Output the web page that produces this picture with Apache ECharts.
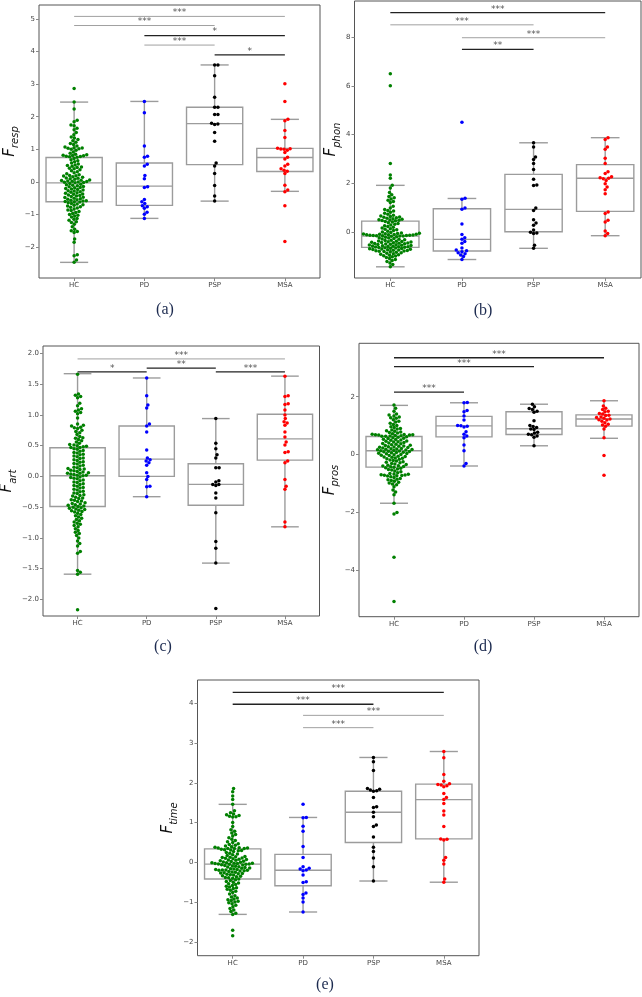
<!DOCTYPE html>
<html><head><meta charset="utf-8">
<script src="https://cdn.jsdelivr.net/npm/echarts@6/dist/echarts.min.js"></script>
<style>html,body{margin:0;padding:0;background:#fff}#c{width:642px;height:997px}</style>
</head><body><div id="c"></div>
<script>
const groups = ['HC', 'PD', 'PSP', 'MSA'];
const groupColors = ['#008000', '#0000ff', '#000000', '#ff0000'];

// ---------- panel (a) F_resp ----------
const aHC = [2.87, 2.45, 2.24, 1.89, 1.85, 1.75, 1.72, 1.65, 1.60, 1.52, 1.45, 1.38, 1.35, 1.30, 1.26, 1.22, 1.18, 1.15, 1.10, 1.07, 1.05, 1.04, 1.03, 1.02, 1.00, 0.97, 0.92, 0.88, 0.85, 0.83, 0.82, 0.81, 0.80, 0.79, 0.78, 0.77, 0.76, 0.72, 0.68, 0.65, 0.62, 0.58, 0.55, 0.52, 0.50, 0.48, 0.46, 0.44, 0.42, 0.40, 0.37, 0.34, 0.31, 0.28, 0.25, 0.22, 0.20, 0.19, 0.18, 0.16, 0.14, 0.12, 0.11, 0.10, 0.08, 0.06, 0.05, 0.04, 0.03, 0.02, 0.01, 0.00, -0.01, -0.02, -0.03, -0.05, -0.07, -0.09, -0.10, -0.12, -0.14, -0.15, -0.17, -0.18, -0.20, -0.22, -0.23, -0.25, -0.27, -0.28, -0.30, -0.32, -0.33, -0.35, -0.37, -0.38, -0.40, -0.42, -0.43, -0.45, -0.47, -0.48, -0.50, -0.52, -0.53, -0.55, -0.56, -0.58, -0.59, -0.60, -0.61, -0.62, -0.64, -0.66, -0.68, -0.70, -0.72, -0.74, -0.76, -0.78, -0.80, -0.83, -0.86, -0.88, -0.91, -0.94, -0.97, -1.00, -1.02, -1.05, -1.08, -1.12, -1.15, -1.18, -1.22, -1.25, -1.30, -1.38, -1.45, -1.50, -1.52, -1.55, -1.75, -1.85, -2.24, -2.27, -2.40, -2.47];
const aPD = [2.47, 2.12, 1.10, 0.79, 0.76, 0.54, 0.49, 0.20, 0.10, -0.15, -0.17, -0.54, -0.61, -0.66, -0.73, -0.76, -0.81, -0.93, -0.99, -1.12];
const aPSP = [3.59, 3.59, 3.26, 2.60, 2.29, 2.29, 2.07, 2.07, 1.80, 1.78, 1.76, 1.52, 1.25, 0.58, 0.49, 0.26, -0.11, -0.43, -0.59];
const aMSA = [3.01, 2.47, 1.92, 1.88, 1.58, 1.36, 1.03, 1.02, 1.01, 1.00, 0.97, 0.90, 0.76, 0.70, 0.54, 0.49, 0.40, 0.36, 0.33, 0.26, -0.10, -0.25, -0.30, -0.73, -1.83];
// box stats: [lower whisker, Q1, median, Q3, upper whisker]
const aBox = [[-2.47, -0.61, -0.03, 0.75, 2.45], [-1.12, -0.72, -0.13, 0.58, 2.47], [-0.59, 0.53, 1.79, 2.29, 3.59], [-0.29, 0.32, 0.75, 1.03, 1.92]];
// significance bars: [from group, to group, height, label, dark]
const aSig = [[0, 3, 5.08, '***', 0], [0, 2, 4.80, '***', 0], [1, 3, 4.49, '*', 1], [1, 2, 4.20, '***', 0], [2, 3, 3.90, '*', 1]];
const aTicks = [-2, -1, 0, 1, 2, 3, 4, 5];

// ---------- panel (b) F_phon ----------
const bHC = [6.50, 6.01, 2.81, 2.34, 2.20, 1.91, 1.80, 1.62, 1.52, 1.45, 1.40, 1.35, 1.30, 1.25, 1.20, 1.05, 0.98, 0.92, 0.88, 0.85, 0.80, 0.76, 0.72, 0.68, 0.65, 0.63, 0.61, 0.60, 0.58, 0.56, 0.54, 0.52, 0.50, 0.49, 0.47, 0.46, 0.45, 0.42, 0.40, 0.37, 0.34, 0.31, 0.28, 0.25, 0.22, 0.19, 0.16, 0.13, 0.10, 0.08, 0.05, 0.02, -0.01, -0.03, -0.05, -0.06, -0.07, -0.08, -0.09, -0.10, -0.10, -0.11, -0.12, -0.12, -0.13, -0.14, -0.14, -0.15, -0.15, -0.16, -0.16, -0.17, -0.17, -0.18, -0.20, -0.22, -0.24, -0.26, -0.28, -0.30, -0.31, -0.33, -0.35, -0.36, -0.38, -0.39, -0.40, -0.41, -0.42, -0.43, -0.44, -0.45, -0.46, -0.47, -0.48, -0.49, -0.50, -0.51, -0.52, -0.53, -0.54, -0.55, -0.56, -0.57, -0.58, -0.59, -0.60, -0.61, -0.62, -0.63, -0.64, -0.65, -0.66, -0.67, -0.68, -0.69, -0.70, -0.71, -0.72, -0.73, -0.74, -0.75, -0.76, -0.77, -0.78, -0.79, -0.80, -0.81, -0.82, -0.84, -0.86, -0.88, -0.90, -0.92, -0.94, -0.96, -0.98, -1.00, -1.03, -1.06, -1.10, -1.14, -1.18, -1.22, -1.28, -1.35, -1.44];
const bPD = [4.50, 1.38, 1.34, 0.98, 0.93, 0.32, -0.11, -0.24, -0.31, -0.40, -0.47, -0.67, -0.75, -0.78, -0.82, -0.86, -0.90, -0.95, -1.02, -1.14];
const bPSP = [3.66, 3.49, 3.08, 2.97, 2.81, 2.56, 2.16, 1.92, 1.90, 0.98, 0.88, 0.50, 0.36, 0.27, 0.07, -0.02, -0.05, -0.07, -0.55, -0.68];
const bMSA = [3.87, 3.80, 3.49, 3.39, 3.02, 2.81, 2.47, 2.40, 2.26, 2.22, 2.20, 2.18, 2.11, 1.98, 1.84, 1.73, 1.56, 0.81, 0.75, 0.47, 0.40, 0.03, -0.07, -0.16];
const bBox = [[-1.44, -0.64, -0.18, 0.44, 1.91], [-1.14, -0.79, -0.31, 0.95, 1.37], [-0.68, 0.00, 0.92, 2.36, 3.66], [-0.16, 0.84, 2.20, 2.76, 3.87]];
const bSig = [[0, 3, 9.01, '***', 1], [0, 2, 8.51, '***', 0], [1, 3, 7.98, '***', 0], [1, 2, 7.50, '**', 1]];
const bTicks = [0, 2, 4, 6, 8];

// ---------- panel (c) F_art ----------
const cHC = [1.66, 1.34, 1.32, 1.30, 1.28, 1.19, 1.15, 1.10, 1.08, 1.06, 1.04, 1.02, 0.95, 0.85, 0.83, 0.82, 0.80, 0.79, 0.78, 0.75, 0.73, 0.71, 0.68, 0.65, 0.63, 0.62, 0.60, 0.58, 0.56, 0.54, 0.52, 0.51, 0.50, 0.49, 0.48, 0.47, 0.47, 0.45, 0.44, 0.42, 0.41, 0.39, 0.38, 0.36, 0.35, 0.33, 0.32, 0.30, 0.29, 0.27, 0.26, 0.24, 0.23, 0.21, 0.20, 0.18, 0.17, 0.15, 0.14, 0.13, 0.12, 0.11, 0.10, 0.09, 0.08, 0.07, 0.06, 0.05, 0.05, 0.04, 0.03, 0.02, 0.02, 0.01, -0.01, -0.02, -0.03, -0.04, -0.06, -0.07, -0.09, -0.10, -0.12, -0.13, -0.15, -0.16, -0.18, -0.19, -0.21, -0.22, -0.24, -0.25, -0.27, -0.28, -0.30, -0.31, -0.32, -0.34, -0.35, -0.36, -0.38, -0.39, -0.40, -0.41, -0.43, -0.44, -0.45, -0.46, -0.47, -0.48, -0.49, -0.50, -0.51, -0.52, -0.53, -0.54, -0.55, -0.56, -0.57, -0.58, -0.60, -0.62, -0.64, -0.66, -0.68, -0.70, -0.72, -0.74, -0.76, -0.78, -0.80, -0.82, -0.85, -0.88, -0.91, -0.93, -0.96, -1.00, -1.05, -1.09, -1.13, -1.22, -1.25, -1.53, -1.56, -1.59, -2.17];
const cPD = [1.60, 1.31, 1.16, 1.11, 0.85, 0.82, 0.72, 0.43, 0.30, 0.27, 0.25, 0.22, 0.18, 0.06, 0.00, -0.05, -0.16, -0.17, -0.33];
const cPSP = [0.94, 0.54, 0.45, 0.35, 0.30, 0.14, 0.14, -0.07, -0.09, -0.13, -0.13, -0.15, -0.27, -0.35, -0.59, -1.06, -1.17, -1.41, -2.15];
const cMSA = [1.63, 1.31, 1.30, 1.18, 1.17, 1.08, 1.00, 0.94, 0.89, 0.87, 0.83, 0.72, 0.64, 0.56, 0.51, 0.40, 0.39, 0.25, 0.22, -0.05, -0.16, -0.21, -0.74, -0.82];
const cBox = [[-1.59, -0.49, 0.01, 0.465, 1.67], [-0.33, 0.00, 0.28, 0.82, 1.60], [-1.41, -0.47, -0.13, 0.205, 0.94], [-0.82, 0.265, 0.61, 1.01, 1.63]];
const cSig = [[0, 3, 1.91, '***', 0], [0, 1, 1.70, '*', 1], [1, 2, 1.76, '**', 1], [2, 3, 1.70, '***', 1]];
const cTicks = [-2, -1.5, -1, -0.5, 0, 0.5, 1, 1.5, 2];

// ---------- panel (d) F_pros ----------
const dHC = [1.71, 1.60, 1.50, 1.40, 1.37, 1.33, 1.30, 1.27, 1.25, 1.20, 1.15, 1.12, 1.08, 1.04, 1.00, 0.96, 0.93, 0.90, 0.88, 0.85, 0.82, 0.80, 0.78, 0.76, 0.74, 0.72, 0.70, 0.69, 0.68, 0.68, 0.67, 0.67, 0.66, 0.65, 0.64, 0.63, 0.63, 0.61, 0.60, 0.58, 0.56, 0.55, 0.53, 0.52, 0.50, 0.49, 0.47, 0.46, 0.44, 0.43, 0.41, 0.40, 0.38, 0.37, 0.35, 0.34, 0.32, 0.31, 0.29, 0.28, 0.27, 0.26, 0.25, 0.24, 0.22, 0.21, 0.20, 0.19, 0.18, 0.17, 0.16, 0.15, 0.14, 0.13, 0.12, 0.11, 0.10, 0.09, 0.08, 0.07, 0.06, 0.04, 0.03, 0.02, 0.00, -0.01, -0.03, -0.04, -0.06, -0.07, -0.09, -0.10, -0.12, -0.13, -0.15, -0.17, -0.19, -0.21, -0.23, -0.25, -0.27, -0.29, -0.31, -0.33, -0.35, -0.37, -0.39, -0.40, -0.42, -0.43, -0.44, -0.46, -0.48, -0.50, -0.52, -0.54, -0.57, -0.60, -0.63, -0.66, -0.68, -0.69, -0.70, -0.71, -0.72, -0.73, -0.74, -0.75, -0.77, -0.80, -0.83, -0.86, -0.88, -0.90, -0.93, -0.96, -0.99, -1.02, -1.05, -1.12, -1.23, -1.30, -1.40, -1.69, -2.01, -2.06, -3.56, -5.09];
const dPD = [1.80, 1.79, 1.52, 1.48, 1.33, 1.19, 1.00, 0.99, 0.98, 0.95, 0.79, 0.70, 0.64, 0.58, 0.33, 0.13, -0.31, -0.40];
const dPSP = [1.74, 1.65, 1.59, 1.56, 1.50, 1.46, 1.17, 1.00, 0.97, 0.93, 0.88, 0.86, 0.77, 0.74, 0.70, 0.68, 0.64, 0.60, 0.30];
const dMSA = [1.86, 1.68, 1.60, 1.56, 1.50, 1.48, 1.42, 1.40, 1.36, 1.35, 1.30, 1.28, 1.25, 1.23, 1.20, 1.19, 1.15, 1.10, 1.05, 1.02, 0.98, 0.88, 0.58, -0.04, -0.72];
const dBox = [[-1.69, -0.44, 0.13, 0.62, 1.70], [-0.40, 0.61, 0.99, 1.32, 1.79], [0.30, 0.69, 0.89, 1.48, 1.74], [0.56, 0.98, 1.23, 1.37, 1.86]];
const dSig = [[0, 3, 3.35, '***', 1], [0, 2, 3.04, '***', 1], [0, 1, 2.16, '***', 1]];
const dTicks = [-4, -2, 0, 2];

// ---------- panel (e) F_time ----------
const eHC = [1.86, 1.78, 1.67, 1.58, 1.46, 1.30, 1.25, 1.22, 1.20, 1.18, 1.16, 1.15, 1.14, 1.00, 0.90, 0.82, 0.78, 0.74, 0.70, 0.66, 0.62, 0.58, 0.55, 0.52, 0.50, 0.47, 0.45, 0.43, 0.41, 0.39, 0.38, 0.37, 0.36, 0.36, 0.35, 0.35, 0.35, 0.33, 0.32, 0.31, 0.30, 0.29, 0.27, 0.25, 0.23, 0.21, 0.19, 0.17, 0.15, 0.14, 0.13, 0.12, 0.11, 0.10, 0.09, 0.08, 0.07, 0.06, 0.05, 0.04, 0.03, 0.02, 0.01, 0.00, -0.01, -0.01, -0.02, -0.02, -0.03, -0.03, -0.04, -0.04, -0.05, -0.05, -0.06, -0.07, -0.08, -0.09, -0.10, -0.11, -0.12, -0.13, -0.14, -0.15, -0.16, -0.17, -0.18, -0.18, -0.19, -0.19, -0.20, -0.20, -0.21, -0.22, -0.23, -0.24, -0.25, -0.26, -0.27, -0.28, -0.29, -0.30, -0.31, -0.32, -0.34, -0.35, -0.36, -0.38, -0.39, -0.40, -0.42, -0.44, -0.46, -0.48, -0.50, -0.52, -0.54, -0.56, -0.58, -0.60, -0.62, -0.64, -0.66, -0.68, -0.70, -0.73, -0.76, -0.80, -0.84, -0.87, -0.90, -0.92, -0.94, -0.96, -0.98, -1.00, -1.02, -1.04, -1.08, -1.12, -1.16, -1.20, -1.24, -1.28, -1.31, -1.71, -1.85];
const ePD = [1.46, 1.13, 1.12, 0.91, 0.78, 0.40, 0.12, -0.11, -0.15, -0.17, -0.19, -0.21, -0.32, -0.49, -0.51, -0.77, -0.81, -0.90, -1.00, -1.25];
const ePSP = [2.64, 2.53, 2.31, 1.86, 1.84, 1.82, 1.80, 1.79, 1.63, 1.40, 1.38, 1.26, 1.15, 0.94, 0.90, 0.64, 0.38, 0.27, 0.11, -0.11, -0.47];
const eMSA = [2.79, 2.63, 2.21, 2.04, 1.98, 1.96, 1.95, 1.93, 1.90, 1.73, 1.63, 1.58, 1.48, 1.29, 1.19, 0.90, 0.59, 0.58, 0.56, 0.12, 0.05, -0.04, -0.42, -0.50];
const eBox = [[-1.31, -0.42, -0.045, 0.34, 1.46], [-1.25, -0.59, -0.20, 0.20, 1.13], [-0.47, 0.50, 1.26, 1.79, 2.64], [-0.50, 0.59, 1.58, 1.97, 2.79]];
const eSig = [[0, 3, 4.28, '***', 1], [0, 2, 3.98, '***', 1], [1, 3, 3.70, '***', 0], [1, 2, 3.39, '***', 0]];
const eTicks = [-2, -1, 0, 1, 2, 3, 4];

// ---------- layout ----------
const panels = [
  {sub: 'resp', tag: '(a)', vals: [aHC, aPD, aPSP, aMSA], box: aBox, sig: aSig, ticks: aTicks, fmt: v => String(v).replace('-', '\u2212'),
   grid: {left: 39, top: 5, width: 281, height: 273}, ymin: -2.95, ymax: 5.43, gap: 12, tagPos: [165, 310]},
  {sub: 'phon', tag: '(b)', vals: [bHC, bPD, bPSP, bMSA], box: bBox, sig: bSig, ticks: bTicks, fmt: v => String(v).replace('-', '\u2212'),
   grid: {left: 354.5, top: 1, width: 286.5, height: 277}, ymin: -1.9, ymax: 9.49, gap: 9.5, tagPos: [483, 311]},
  {sub: 'art', tag: '(c)', vals: [cHC, cPD, cPSP, cMSA], box: cBox, sig: cSig, ticks: cTicks, fmt: v => v.toFixed(1).replace('-', '\u2212'),
   grid: {left: 43, top: 346, width: 276.5, height: 270}, ymin: -2.27, ymax: 2.12, gap: 19, tagPos: [163, 647]},
  {sub: 'pros', tag: '(d)', vals: [dHC, dPD, dPSP, dMSA], box: dBox, sig: dSig, ticks: dTicks, fmt: v => String(v).replace('-', '\u2212'),
   grid: {left: 359, top: 343.3, width: 280, height: 273.4}, ymin: -5.62, ymax: 3.85, gap: 15, tagPos: [483, 647]},
  {sub: 'time', tag: '(e)', vals: [eHC, ePD, ePSP, eMSA], box: eBox, sig: eSig, ticks: eTicks, fmt: v => String(v).replace('-', '\u2212'),
   grid: {left: 197.5, top: 680, width: 281.5, height: 275.7}, ymin: -2.35, ymax: 4.59, gap: 11.5, tagPos: [325, 985]}
];

const DOT = 3.5;      // drawn marker diameter (px)
const SPACING = 3.3;  // collision diameter used by the swarm layout (px)

// beeswarm: non-overlapping horizontal offsets (in px) computed from the values
function swarm(values, pxPerUnit, d) {
  const order = values.map((v, i) => i).sort((a, b) => values[a] - values[b]);
  const placed = [];
  const offs = new Array(values.length).fill(0);
  for (const i of order) {
    const y = values[i] * pxPerUnit;
    const near = placed.filter(p => Math.abs(p.y - y) < d);
    const cands = [0];
    for (const p of near) {
      const dx = Math.sqrt(d * d - (p.y - y) * (p.y - y));
      cands.push(p.x + dx, p.x - dx);
    }
    cands.sort((a, b) => Math.abs(a) - Math.abs(b) || b - a);
    let chosen = 0;
    for (const c of cands) {
      if (near.every(p => (p.x - c) * (p.x - c) + (p.y - y) * (p.y - y) >= d * d - 1e-6)) { chosen = c; break; }
    }
    placed.push({x: chosen, y});
    offs[i] = chosen;
  }
  return offs;
}

const grids = [], xAxes = [], yAxes = [], series = [], graphics = [];
const tickStyle = {fontSize: 7, color: '#444', fontFamily: 'DejaVu Sans'};

panels.forEach((P, pi) => {
  grids.push(Object.assign({show: true, borderColor: '#555', borderWidth: 1, backgroundColor: '#fff', outerBoundsMode: 'none', containLabel: false}, P.grid));
  xAxes.push({
    gridIndex: pi, type: 'value', min: -0.5, max: 3.5, position: 'bottom',
    splitLine: {show: false}, axisLine: {show: false, onZero: false},
    axisTick: {show: true, customValues: [0, 1, 2, 3], length: 3, lineStyle: {color: '#888'}},
    axisLabel: Object.assign({customValues: [0, 1, 2, 3], formatter: v => groups[Math.round(v)], margin: 4}, tickStyle)
  });
  yAxes.push({
    gridIndex: pi, type: 'value', min: P.ymin, max: P.ymax, position: 'left',
    splitLine: {show: false}, axisLine: {show: false, onZero: false},
    axisTick: {show: true, customValues: P.ticks, length: 3, lineStyle: {color: '#888'}},
    axisLabel: Object.assign({customValues: P.ticks, formatter: P.fmt, margin: 4}, tickStyle),
    name: '{f|F}{s|' + P.sub + '}', nameLocation: 'middle', nameRotate: 90, nameGap: P.gap,
    nameTextStyle: {rich: {
      f: {fontSize: 15, fontStyle: 'italic', fontFamily: 'DejaVu Sans', color: '#111', lineHeight: 22, verticalAlign: 'middle'},
      s: {fontSize: 10, fontStyle: 'italic', fontFamily: 'DejaVu Sans', color: '#111', lineHeight: 22, verticalAlign: 'bottom'}
    }}
  });

  // boxes
  series.push({
    type: 'custom', xAxisIndex: pi, yAxisIndex: pi, z: 1, silent: true,
    data: P.box.map((b, gi) => [gi].concat(b)),
    encode: {x: 0, y: [1, 2, 3, 4, 5]},
    renderItem: (params, api) => {
      const x = api.value(0);
      const w = api.size([0.8, 0])[0];
      const pL = api.coord([x, api.value(1)]);
      const p1 = api.coord([x, api.value(2)]);
      const pM = api.coord([x, api.value(3)]);
      const p3 = api.coord([x, api.value(4)]);
      const pH = api.coord([x, api.value(5)]);
      const cx = pM[0];
      const st = {stroke: '#9c9c9c', lineWidth: 1.4};
      return {type: 'group', children: [
        {type: 'line', shape: {x1: cx, y1: p3[1], x2: cx, y2: pH[1]}, style: st},
        {type: 'line', shape: {x1: cx, y1: p1[1], x2: cx, y2: pL[1]}, style: st},
        {type: 'line', shape: {x1: cx - w / 4, y1: pH[1], x2: cx + w / 4, y2: pH[1]}, style: st},
        {type: 'line', shape: {x1: cx - w / 4, y1: pL[1], x2: cx + w / 4, y2: pL[1]}, style: st},
        {type: 'rect', shape: {x: cx - w / 2, y: p3[1], width: w, height: p1[1] - p3[1]}, style: {stroke: '#9c9c9c', lineWidth: 1.4, fill: '#fff'}},
        {type: 'line', shape: {x1: cx - w / 2, y1: pM[1], x2: cx + w / 2, y2: pM[1]}, style: st}
      ]};
    }
  });

  // swarm points
  const pxPerY = P.grid.height / (P.ymax - P.ymin);
  const pxPerX = P.grid.width / 4;
  P.vals.forEach((vals, gi) => {
    const offs = swarm(vals, pxPerY, SPACING);
    series.push({
      type: 'scatter', xAxisIndex: pi, yAxisIndex: pi, z: 3, silent: true,
      symbolSize: DOT, itemStyle: {color: groupColors[gi], opacity: 1},
      data: vals.map((v, k) => [gi + offs[k] / pxPerX, v])
    });
  });

  // significance bars
  const sig = P.sig;
  series.push({
    type: 'custom', xAxisIndex: pi, yAxisIndex: pi, z: 4, silent: true,
    data: sig.map(s => [s[0], s[1], s[2]]),
    encode: {x: [0, 1], y: 2},
    renderItem: (params, api) => {
      const s = sig[params.dataIndex];
      const a = api.coord([api.value(0), api.value(2)]);
      const b = api.coord([api.value(1), api.value(2)]);
      return {type: 'group', children: [
        {type: 'line', shape: {x1: a[0], y1: a[1], x2: b[0], y2: b[1]}, style: {stroke: s[4] ? '#222' : '#a0a0a0', lineWidth: s[4] ? 1.3 : 1}},
        {type: 'text', style: {text: s[3], x: (a[0] + b[0]) / 2, y: a[1] + 1, align: 'center', verticalAlign: 'bottom', fill: '#555', font: '9px "DejaVu Sans"'}}
      ]};
    }
  });

  graphics.push({type: 'text', x: P.tagPos[0], y: P.tagPos[1], style: {text: P.tag, align: 'center', verticalAlign: 'middle', fill: '#1d2b50', font: '16px "Liberation Serif"'}});
});

const chart = echarts.init(document.getElementById('c'), null, {renderer: 'canvas'});
chart.setOption({
  animation: false,
  backgroundColor: '#fff',
  grid: grids, xAxis: xAxes, yAxis: yAxes, series: series, graphic: graphics
});
</script>
</body></html>
